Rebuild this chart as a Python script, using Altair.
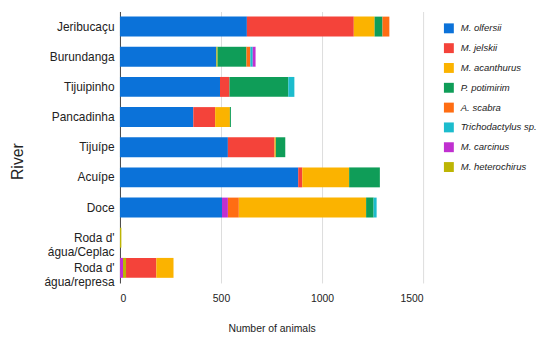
import altair as alt
import pandas as pd

rivers = ["Jeribucaçu", "Burundanga", "Tijuipinho", "Pancadinha", "Tijuípe",
          "Acuípe", "Doce", "Roda d'\nágua/Ceplac", "Roda d'\nágua/represa"]

species = ["M. olfersii", "M. jelskii", "M. acanthurus", "P. potimirim",
           "A. scabra", "Trichodactylus sp.", "M. carcinus", "M. heterochirus"]
colors = ["#0b72d9", "#f4433a", "#fbb300", "#0f9d58",
          "#ff6d13", "#1cbccd", "#c030d0", "#bdb504"]

olfersii       = [628, 477, 495, 363, 534, 882, 505, 0, 0]
jelskii        = [529, 0, 47, 108, 231, 20, 0, 0, 150]
acanthurus     = [103, 0, 0, 73, 6, 232, 630, 0, 85]
potimirim      = [39, 144, 291, 5, 47, 152, 37, 0, 0]
scabra         = [34, 19, 0, 0, 0, 0, 54, 0, 0]
trichodactylus = [0, 12, 30, 0, 0, 0, 15, 0, 0]
carcinus       = [0, 14, 0, 0, 0, 0, 29, 0, 15]
heterochirus   = [0, 5, 0, 0, 0, 0, 0, 7, 15]

series = [olfersii, jelskii, acanthurus, potimirim, scabra,
          trichodactylus, carcinus, heterochirus]

# stacking order overrides (left to right) for some rivers
order_override = {
    "Burundanga": ["M. olfersii", "M. heterochirus", "P. potimirim", "A. scabra",
                   "Trichodactylus sp.", "M. carcinus"],
    "Doce": ["M. olfersii", "M. carcinus", "A. scabra", "M. acanthurus",
             "P. potimirim", "Trichodactylus sp."],
    "Roda d'\nágua/represa": ["M. carcinus", "M. heterochirus", "M. jelskii",
                              "M. acanthurus"],
}

rows = []
for i, r in enumerate(rivers):
    for j, sp in enumerate(species):
        v = series[j][i]
        if v <= 0:
            continue
        if r in order_override:
            o = order_override[r].index(sp)
        else:
            o = j
        rows.append({"River": r, "Species": sp, "Count": v, "ord": o})
df = pd.DataFrame(rows)

chart = alt.Chart(df).mark_bar().encode(
    y=alt.Y("River:N", sort=rivers,
            scale=alt.Scale(paddingInner=0.34, paddingOuter=0.17),
            axis=alt.Axis(title="River", labelExpr="split(datum.label, '\\n')",
                          labelFontSize=12, labelColor="#222", labelPadding=6,
                          labelFont="Liberation Sans", ticks=False,
                          domainColor="#444", domainWidth=1,
                          titleFont="Liberation Sans", titleFontSize=16,
                          titleFontWeight="normal", titleColor="#222",
                          titleX=-95, titleY=151)),
    x=alt.X("Count:Q", stack="zero",
            scale=alt.Scale(domain=[0, 1500], nice=False),
            axis=alt.Axis(title="Number of animals", values=[0, 500, 1000, 1500],
                          format="d",
                          domain=False, ticks=False, labelFontSize=10.5,
                          labelColor="#222", labelPadding=11,
                          labelFont="Liberation Sans", gridColor="#dddddd",
                          titleFont="Liberation Sans", titleFontSize=10.5,
                          titleFontWeight="normal", titleColor="#222",
                          titlePadding=20)),
    color=alt.Color("Species:N", sort=species,
                    scale=alt.Scale(domain=species, range=colors),
                    legend=alt.Legend(title=None, orient="none", legendX=327,
                                      legendY=12, symbolType="square",
                                      symbolSize=100, symbolStrokeWidth=0,
                                      labelFontSize=9.6, labelFontStyle="italic",
                                      labelFont="Liberation Sans", labelColor="#222",
                                      labelOffset=7, rowPadding=10,
                                      labelLimit=200)),
    order=alt.Order("ord:Q", sort="ascending"),
).properties(
    width=306, height=274,
    autosize=alt.AutoSizeParams(type="none"),
    padding={"left": 113, "top": 2, "right": 120, "bottom": 50},
).configure_view(stroke=None)

chart.save("out.html", embed_options={"renderer": "svg", "actions": False})
